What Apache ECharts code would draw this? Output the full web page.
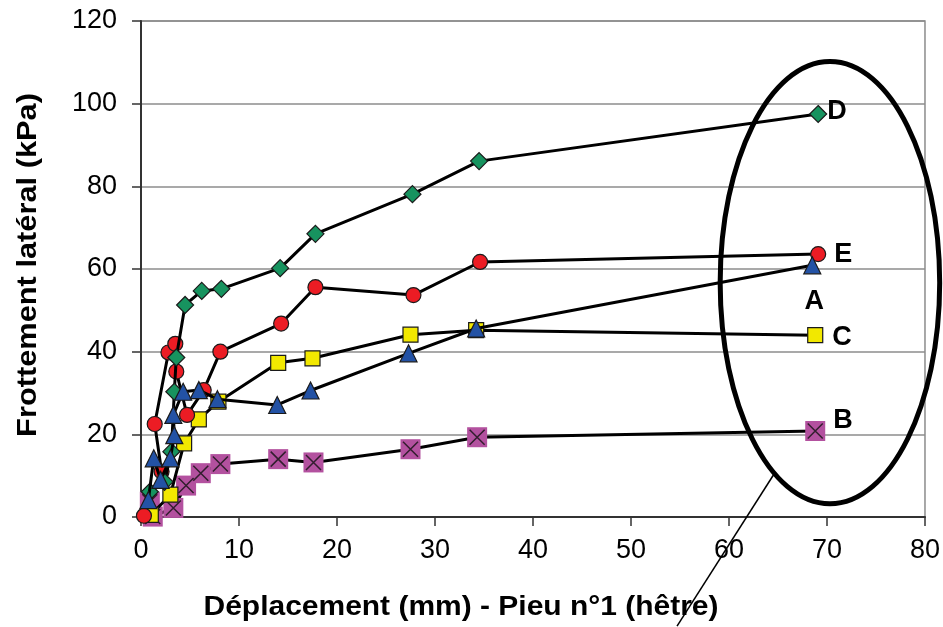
<!DOCTYPE html>
<html>
<head>
<meta charset="utf-8">
<script src="https://cdn.jsdelivr.net/npm/echarts@6/dist/echarts.min.js"></script>
<style>
html,body{margin:0;padding:0;background:#fff;}
#c{width:943px;height:627px;}
</style>
</head>
<body>
<div id="c"></div>
<script>
// Data
var xTicks = [0, 10, 20, 30, 40, 50, 60, 70, 80];
var yTicks = [0, 20, 40, 60, 80, 100, 120];
var xTitle = 'Déplacement (mm) - Pieu n°1 (hêtre)';
var yTitle = 'Frottement latéral (kPa)';

var dX = [0.9, 2.4, 3.1, 3.4, 3.6, 4.5, 6.2, 8.2, 14.2, 17.8, 27.7, 34.5, 69.1];
var dY = [6.1, 8.5, 15.8, 30.3, 38.6, 51.3, 54.7, 55.2, 60.2, 68.5, 78.1, 86.1, 97.5];

var eX = [0.3, 2.1, 1.4, 2.8, 3.5, 3.6, 4.7, 6.4, 8.1, 14.3, 17.8, 27.8, 34.6, 69.1];
var eY = [0.3, 11.0, 22.5, 39.8, 41.9, 35.2, 24.7, 30.7, 40.0, 46.8, 55.6, 53.7, 61.7, 63.6];

var aX = [0.75, 1.3, 2.0, 3.0, 3.4, 3.3, 4.3, 5.9, 7.8, 13.9, 17.3, 27.3, 34.2, 68.5];
var aY = [4.1, 14.2, 9.0, 14.2, 19.8, 24.7, 30.3, 30.7, 28.5, 27.1, 30.6, 39.6, 45.6, 60.9];

var cX = [1.0, 3.0, 4.4, 5.9, 7.9, 14.0, 17.5, 27.5, 34.2, 68.8];
var cY = [0.5, 5.4, 17.8, 23.6, 27.9, 37.3, 38.4, 44.1, 45.2, 44.0];

var bX = [0.9, 1.2, 3.3, 4.6, 6.1, 8.1, 14.0, 17.6, 27.5, 34.3, 68.8];
var bY = [3.7, 0.1, 2.2, 7.6, 10.6, 12.8, 14.0, 13.2, 16.4, 19.3, 20.8];

// annotation ellipse (data units) and pointer line
var ellipseCenter = [70.3, 56.7];
var ellipseRadii = [11.2, 53.5];
var pointerFrom = [64.6, 10.4];
var pointerTo = [54.7, -26.4];

var FONT = "'Liberation Sans', Arial, sans-serif";

function pairs(xs, ys, name, labelOpt) {
  var out = [];
  for (var i = 0; i < xs.length; i++) {
    var item = { value: [xs[i], ys[i]] };
    if (i === xs.length - 1 && labelOpt) {
      item.label = Object.assign({
        show: true, formatter: name, color: '#000',
        fontFamily: FONT, fontWeight: 'bold', fontSize: 27
      }, labelOpt);
    }
    out.push(item);
  }
  return out;
}

function lineSeries(name, xs, ys, symbol, size, color, border, labelOpt, z) {
  return {
    name: name, type: 'line', z: z,
    data: pairs(xs, ys, name, labelOpt),
    symbol: symbol, symbolSize: size, showAllSymbol: true,
    lineStyle: { color: '#000', width: 3 },
    itemStyle: { color: color, borderColor: border ? '#1a1a1a' : color, borderWidth: border ? 1.2 : 0, opacity: 1 },
    emphasis: { disabled: true },
    animation: false
  };
}

var chart = echarts.init(document.getElementById('c'), null, { renderer: 'canvas' });

var option = {
  animation: false,
  backgroundColor: '#fff',
  grid: { left: 141, right: 17, top: 21, bottom: 110, show: true, borderColor: '#8c8c8c', borderWidth: 1.5, containLabel: false },
  xAxis: {
    type: 'value', min: xTicks[0], max: xTicks[xTicks.length - 1], interval: 10,
    axisLine: { show: true, onZero: false, lineStyle: { color: '#333', width: 2 } },
    axisTick: { show: true, inside: false, length: 9, lineStyle: { color: '#333', width: 1.5 } },
    axisLabel: { fontFamily: FONT, fontSize: 27, color: '#000', margin: 20 },
    splitLine: { show: false }
  },
  yAxis: {
    type: 'value', min: yTicks[0], max: yTicks[yTicks.length - 1], interval: 20,
    axisLine: { show: true, onZero: false, lineStyle: { color: '#333', width: 2 } },
    axisTick: { show: true, inside: false, length: 9, lineStyle: { color: '#333', width: 1.5 } },
    axisLabel: { fontFamily: FONT, fontSize: 27, color: '#000', margin: 24 },
    splitLine: { show: true, lineStyle: { color: '#8c8c8c', width: 1.5 } }
  },
  series: [
    lineSeries('B', bX, bY, 'rect', 20, '#b3519f', false, { position: 'right', distance: 8, offset: [0, -10] }, 2),
    {
      name: 'Bx', type: 'scatter', z: 3,
      data: pairs(bX, bY, null, null),
      symbol: 'path://M0,0L10,10M10,0L0,10', symbolSize: 15,
      itemStyle: { color: 'rgba(0,0,0,0)', borderColor: '#111', borderWidth: 1.5 },
      emphasis: { disabled: true }, animation: false
    },
    lineSeries('C', cX, cY, 'rect', 15, '#f2e800', true, { position: 'right', distance: 9, offset: [0, 2] }, 4),
    lineSeries('E', eX, eY, 'circle', 15, '#ec1c24', true, { position: 'right', distance: 8, offset: [0, 0] }, 5),
    lineSeries('D', dX, dY, 'diamond', 17, '#17935f', true, { position: 'right', distance: 0, offset: [0, -2] }, 6),
    lineSeries('A', aX, aY, 'triangle', 17, '#2352a5', true, { position: 'bottom', distance: 14, offset: [2, 0] }, 7)
  ]
};
chart.setOption(option);

function drawAnnotations() {
  var c = chart.convertToPixel({ gridIndex: 0 }, ellipseCenter);
  var e = chart.convertToPixel({ gridIndex: 0 }, [ellipseCenter[0] + ellipseRadii[0], ellipseCenter[1] + ellipseRadii[1]]);
  var p1 = chart.convertToPixel({ gridIndex: 0 }, pointerFrom);
  var p2 = chart.convertToPixel({ gridIndex: 0 }, pointerTo);
  chart.setOption({
    graphic: [
      { type: 'ellipse', z: 100, silent: true,
        shape: { cx: c[0], cy: c[1], rx: Math.abs(e[0] - c[0]), ry: Math.abs(c[1] - e[1]) },
        style: { fill: null, stroke: '#000', lineWidth: 5 } },
      { type: 'line', z: 100, silent: true,
        shape: { x1: p1[0], y1: p1[1], x2: p2[0], y2: p2[1] },
        style: { stroke: '#000', lineWidth: 1.5 } },
      { type: 'text', z: 100, silent: true, x: 461, y: 608, scaleX: 1.11,
        style: { text: xTitle, fill: '#000', fontFamily: FONT, fontWeight: 'bold', fontSize: 27, align: 'center', verticalAlign: 'middle' } },
      { type: 'text', z: 100, silent: true, x: 29, y: 265, rotation: Math.PI / 2, scaleX: 1.14,
        style: { text: yTitle, fill: '#000', fontFamily: FONT, fontWeight: 'bold', fontSize: 27, align: 'center', verticalAlign: 'middle' } }
    ]
  });
}
drawAnnotations();
</script>
</body>
</html>
